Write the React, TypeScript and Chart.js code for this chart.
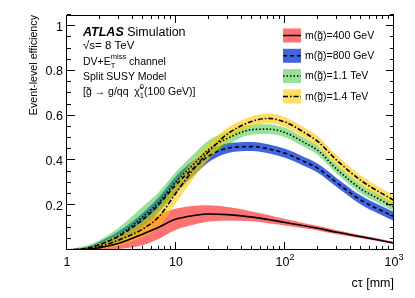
import React, { useEffect, useRef } from "react";
import { Chart, registerables } from "chart.js";

Chart.register(...registerables);

// c-tau values [mm]
const ctValues = [1, 1.5, 2, 3, 5, 7, 10, 15, 20, 30, 50, 70, 100, 150, 200, 300, 500, 700, 1000];

// m(gluino) = 400 GeV
const eff400 = [0, 0.003, 0.01, 0.03, 0.072, 0.103, 0.138, 0.155, 0.161, 0.158, 0.147, 0.136, 0.123, 0.108, 0.097, 0.079, 0.059, 0.046, 0.031];
const eff400Hi = [0.002, 0.01, 0.03, 0.065, 0.125, 0.16, 0.185, 0.198, 0.2, 0.192, 0.172, 0.156, 0.138, 0.12, 0.108, 0.088, 0.066, 0.052, 0.036];
const eff400Lo = [0, 0, 0, 0.005, 0.022, 0.05, 0.09, 0.115, 0.127, 0.132, 0.128, 0.12, 0.11, 0.097, 0.087, 0.07, 0.052, 0.04, 0.026];

// m(gluino) = 800 GeV
const eff800 = [0, 0.008, 0.025, 0.062, 0.138, 0.205, 0.292, 0.372, 0.42, 0.455, 0.462, 0.452, 0.432, 0.395, 0.365, 0.3, 0.222, 0.185, 0.15];
const eff800Hi = [0.002, 0.012, 0.038, 0.085, 0.168, 0.238, 0.33, 0.405, 0.447, 0.477, 0.482, 0.472, 0.452, 0.415, 0.385, 0.32, 0.242, 0.205, 0.17];
const eff800Lo = [0, 0.003, 0.012, 0.04, 0.108, 0.172, 0.255, 0.338, 0.393, 0.433, 0.442, 0.432, 0.412, 0.375, 0.345, 0.28, 0.202, 0.165, 0.13];

// m(gluino) = 1.1 TeV
const eff1100 = [0, 0.008, 0.025, 0.065, 0.15, 0.215, 0.305, 0.39, 0.45, 0.5, 0.538, 0.54, 0.525, 0.48, 0.445, 0.36, 0.272, 0.232, 0.192];
const eff1100Hi = [0.002, 0.02, 0.045, 0.1, 0.195, 0.26, 0.35, 0.435, 0.49, 0.53, 0.56, 0.562, 0.546, 0.5, 0.465, 0.38, 0.292, 0.252, 0.212];
const eff1100Lo = [0, 0, 0.01, 0.035, 0.105, 0.17, 0.26, 0.345, 0.41, 0.47, 0.516, 0.518, 0.504, 0.46, 0.425, 0.34, 0.252, 0.212, 0.172];

// m(gluino) = 1.4 TeV
const eff1400 = [0, 0.004, 0.015, 0.045, 0.095, 0.15, 0.255, 0.37, 0.44, 0.52, 0.575, 0.588, 0.572, 0.525, 0.485, 0.4, 0.31, 0.265, 0.222];
const eff1400Hi = [0.002, 0.01, 0.03, 0.07, 0.13, 0.195, 0.3, 0.41, 0.475, 0.548, 0.598, 0.61, 0.594, 0.547, 0.507, 0.422, 0.332, 0.287, 0.244];
const eff1400Lo = [0, 0, 0.005, 0.02, 0.06, 0.105, 0.21, 0.33, 0.405, 0.492, 0.552, 0.566, 0.55, 0.503, 0.463, 0.378, 0.288, 0.243, 0.2];

const legendLabels = ["m(g\u0303)=400 GeV", "m(g\u0303)=800 GeV", "m(g\u0303)=1.1 TeV", "m(g\u0303)=1.4 TeV"];
const bandColors = ["rgba(255,20,20,0.6)", "rgba(0,50,210,0.75)", "rgba(50,195,50,0.5)", "rgba(255,200,0,0.6)"];
const lineDashes: number[][] = [[], [4, 3], [1.5, 2], [5, 2, 1.5, 2]];

const yTickValues = [0.2, 0.4, 0.6, 0.8, 1];
const yTickLabels = ["0.2", "0.4", "0.6", "0.8", "1"];
const xTickValues = [1, 10, 100, 1000];
const xTickBase = ["1", "10", "10", "10"];
const xTickExp = ["", "", "2", "3"];

const FONT = '"Liberation Sans", Arial, Helvetica, sans-serif';

const series = [
  { c: eff400, hi: eff400Hi, lo: eff400Lo },
  { c: eff800, hi: eff800Hi, lo: eff800Lo },
  { c: eff1100, hi: eff1100Hi, lo: eff1100Lo },
  { c: eff1400, hi: eff1400Hi, lo: eff1400Lo },
];

function pts(arr: number[]) {
  return ctValues.map((x, i) => ({ x, y: arr[i] }));
}

const decorPlugin = {
  id: "atlasDecor",
  afterDraw(chart: any) {
    const ctx: CanvasRenderingContext2D = chart.ctx;
    const xs = chart.scales.x;
    const ys = chart.scales.y;
    const { left, right, top, bottom } = chart.chartArea;
    ctx.save();
    ctx.strokeStyle = "#000";
    ctx.fillStyle = "#000";
    ctx.lineWidth = 1;
    ctx.setLineDash([]);
    // frame
    ctx.strokeRect(Math.round(left) - 0.5, Math.round(top) + 0.5, Math.round(right - left), Math.round(bottom - top) - 1);

    // x ticks (log)
    ctx.beginPath();
    for (let d = 1; d <= 1000; d *= 10) {
      for (let k = 1; k <= 9; k++) {
        const v = d * k;
        if (v > 1000) break;
        const major = k === 1;
        const len = major ? 8 : 4;
        const px = Math.round(xs.getPixelForValue(v)) - 0.5;
        ctx.moveTo(px, bottom);
        ctx.lineTo(px, bottom - len);
        ctx.moveTo(px, top);
        ctx.lineTo(px, top + len);
      }
    }
    // y ticks
    for (let i = 0; i <= 21; i++) {
      const v = i * 0.05;
      const major = i % 4 === 0;
      const len = major ? 8 : 4;
      const py = Math.round(ys.getPixelForValue(v)) - 0.5;
      ctx.moveTo(left, py);
      ctx.lineTo(left + len, py);
      ctx.moveTo(right, py);
      ctx.lineTo(right - len, py);
    }
    ctx.stroke();

    // y tick labels
    ctx.font = `12.5px ${FONT}`;
    ctx.textAlign = "right";
    ctx.textBaseline = "middle";
    yTickValues.forEach((v, i) => {
      ctx.fillText(yTickLabels[i], left - 4, ys.getPixelForValue(v) + 1);
    });

    // x tick labels
    ctx.textBaseline = "alphabetic";
    ctx.textAlign = "left";
    xTickValues.forEach((v, i) => {
      const px = xs.getPixelForValue(v);
      ctx.font = `12.5px ${FONT}`;
      const wb = ctx.measureText(xTickBase[i]).width;
      ctx.font = `9px ${FONT}`;
      const we = xTickExp[i] ? ctx.measureText(xTickExp[i]).width : 0;
      const x0 = px - (wb + we) / 2;
      ctx.font = `12.5px ${FONT}`;
      ctx.fillText(xTickBase[i], x0, bottom + 16);
      if (xTickExp[i]) {
        ctx.font = `9px ${FONT}`;
        ctx.fillText(xTickExp[i], x0 + wb, bottom + 10);
      }
    });

    // axis titles
    ctx.font = `12.5px ${FONT}`;
    ctx.textAlign = "right";
    ctx.fillText("c\u03c4 [mm]", right, bottom + 37);
    ctx.save();
    ctx.translate(37, top);
    ctx.rotate(-Math.PI / 2);
    ctx.font = `10.7px ${FONT}`;
    ctx.textAlign = "right";
    ctx.fillText("Event-level efficiency", 0, 0);
    ctx.restore();

    // text block
    ctx.textAlign = "left";
    let x = 83;
    ctx.font = `bold italic 12.5px ${FONT}`;
    ctx.fillText("ATLAS", x, 36);
    x += ctx.measureText("ATLAS").width;
    ctx.font = `12.5px ${FONT}`;
    ctx.fillText(" Simulation", x, 36);

    ctx.font = `11.5px ${FONT}`;
    ctx.fillText("\u221as= 8 TeV", 83, 49);

    x = 83;
    ctx.font = `10.5px ${FONT}`;
    ctx.fillText("DV+E", x, 65);
    x += ctx.measureText("DV+E").width;
    ctx.font = `7.5px ${FONT}`;
    ctx.fillText("T", x, 68);
    ctx.fillText("miss", x, 59);
    x += Math.max(ctx.measureText("T").width, ctx.measureText("miss").width);
    ctx.font = `10.5px ${FONT}`;
    ctx.fillText(" channel", x, 65);

    ctx.fillText("Split SUSY Model", 83, 80);

    x = 83;
    ctx.font = `10.5px ${FONT}`;
    const s1 = "[g\u0303 \u2192 g/qq  \u03c7\u0303";
    ctx.fillText(s1, x, 95);
    x += ctx.measureText(s1).width;
    ctx.font = `7.5px ${FONT}`;
    ctx.fillText("0", x, 89);
    ctx.fillText("1", x, 98);
    x += ctx.measureText("0").width;
    ctx.font = `10.5px ${FONT}`;
    ctx.fillText("(100 GeV)]", x, 95);

    // legend
    legendLabels.forEach((lab, i) => {
      const cy = 35.5 + i * 20.3;
      ctx.fillStyle = "#fff";
      ctx.fillRect(283, cy - 7, 18, 14);
      ctx.fillStyle = bandColors[i];
      ctx.fillRect(283, cy - 7, 18, 14);
      ctx.strokeStyle = "#000";
      ctx.lineWidth = 1.5;
      ctx.setLineDash(lineDashes[i]);
      ctx.beginPath();
      ctx.moveTo(283, cy);
      ctx.lineTo(301, cy);
      ctx.stroke();
      ctx.setLineDash([]);
      ctx.fillStyle = "#000";
      ctx.font = `10.5px ${FONT}`;
      ctx.textBaseline = "middle";
      ctx.fillText(lab, 305, cy + 0.5);
      ctx.textBaseline = "alphabetic";
    });
    ctx.restore();
  },
};

export default function App() {
  const canvasRef = useRef<HTMLCanvasElement | null>(null);
  useEffect(() => {
    const canvas = canvasRef.current;
    if (!canvas) return;
    const datasets: any[] = [];
    series.forEach((s, i) => {
      const ord = 10 - i;
      datasets.push({
        label: legendLabels[i] + " up",
        data: pts(s.hi),
        borderWidth: 0,
        borderColor: "rgba(0,0,0,0)",
        backgroundColor: bandColors[i],
        fill: "+1",
        pointRadius: 0,
        cubicInterpolationMode: "monotone",
        order: ord,
      });
      datasets.push({
        label: legendLabels[i] + " down",
        data: pts(s.lo),
        borderWidth: 0,
        borderColor: "rgba(0,0,0,0)",
        backgroundColor: "rgba(0,0,0,0)",
        fill: false,
        pointRadius: 0,
        cubicInterpolationMode: "monotone",
        order: ord,
      });
    });
    series.forEach((s, i) => {
      datasets.push({
        label: legendLabels[i],
        data: pts(s.c),
        borderWidth: 1.6,
        borderColor: "#000",
        borderDash: lineDashes[i],
        fill: false,
        pointRadius: 0,
        cubicInterpolationMode: "monotone",
        order: 0,
      });
    });
    const chart = new Chart(canvas, {
      type: "line",
      data: { datasets },
      options: {
        responsive: false,
        animation: false,
        devicePixelRatio: 1,
        layout: { padding: { left: 67, top: 15, right: 21, bottom: 48 } },
        scales: {
          x: { type: "logarithmic", min: 1, max: 1000, display: false },
          y: { type: "linear", min: 0, max: 1.05, display: false },
        },
        plugins: {
          legend: { display: false },
          tooltip: { enabled: false },
          title: { display: false },
        },
        elements: { point: { radius: 0 } },
      },
      plugins: [decorPlugin],
    } as any);
    return () => chart.destroy();
  }, []);
  return (
    <div style={{ position: "fixed", left: 0, top: 0, width: 415, height: 298, background: "#fff" }}>
      <canvas ref={canvasRef} width={415} height={298} style={{ display: "block", width: 415, height: 298 }} />
    </div>
  );
}
